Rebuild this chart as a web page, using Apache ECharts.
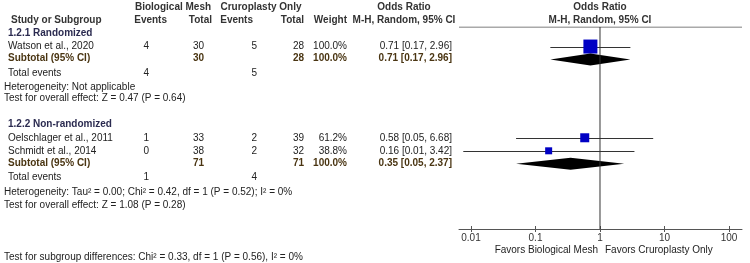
<!DOCTYPE html>
<html><head><meta charset="utf-8">
<script src="https://cdn.jsdelivr.net/npm/echarts@6/dist/echarts.min.js"></script>
<style>html,body{margin:0;padding:0;background:#fff}#c{width:750px;height:263px}</style>
</head><body><div id="c"></div>
<script>
// ---- data ----
const groupNames = ['1.2.1 Randomized', '1.2.2 Non-randomized'];
const studies = ['Watson et al., 2020', 'Oelschlager et al., 2011', 'Schmidt et al., 2014'];
const bioEvents = [4, 1, 0];
const bioTotal = [30, 33, 38];
const cruEvents = [5, 2, 2];
const cruTotal = [28, 39, 32];
const weights = [100.0, 61.2, 38.8];
const orEst = [0.71, 0.58, 0.16];
const orLow = [0.17, 0.05, 0.0076];
const orHigh = [2.96, 6.68, 3.42];
const subBioTotal = [30, 71];
const subCruTotal = [28, 71];
const subEst = [0.71, 0.35];
const subLow = [0.17, 0.05];
const subHigh = [2.96, 2.37];
const totBioEvents = [4, 1];
const totCruEvents = [5, 4];
const heterogeneity = ['Heterogeneity: Not applicable', 'Heterogeneity: Tau\u00b2 = 0.00; Chi\u00b2 = 0.42, df = 1 (P = 0.52); I\u00b2 = 0%'];
const overallEffect = ['Test for overall effect: Z = 0.47 (P = 0.64)', 'Test for overall effect: Z = 1.08 (P = 0.28)'];
const subgroupTest = 'Test for subgroup differences: Chi\u00b2 = 0.33, df = 1 (P = 0.56), I\u00b2 = 0%';
const axisTicks = [0.01, 0.1, 1, 10, 100];
const favorsLeft = 'Favors Biological Mesh';
const favorsRight = 'Favors Cruroplasty Only';

// ---- layout (styles / positions) ----
const studyRow = [1.5, 8.5, 9.5];
const subRow = [2.5, 10.5];
const markerSizes = [14, 9, 7];
const gridTop = 27, gridBottom = 34, rowMax = 15.5;
const xMin = 0.00652, xMax = 159;
const rowY = r => gridTop + r * (263 - gridTop - gridBottom) / rowMax;
const col = {study: 8, note: 4, bioEv: 149, bioTot: 204, cruEv: 257, cruTot: 304, weight: 347, orText: 452};
const FONT = '"Liberation Sans", Arial, sans-serif';
const TXT = '#222', HDR = '#333', GRP = '#2b2b50', SUB = '#4a3512';

const fmt = v => v.toFixed(2);
const ciText = (e, l, h) => fmt(e) + ' [' + fmt(l) + ', ' + fmt(h) + ']';

const g = [];
function T(x, y, text, align, bold, color) {
  g.push({type: 'text', x: x, y: y, style: {text: String(text), align: align || 'left', verticalAlign: 'middle',
    font: (bold ? 'bold ' : '') + '10px ' + FONT, fill: color || TXT}});
}
// headers
T(173, 7, 'Biological Mesh', 'center', true, HDR);
T(261, 7, 'Cruroplasty Only', 'center', true, HDR);
T(404, 7, 'Odds Ratio', 'center', true, HDR);
T(600, 7, 'Odds Ratio', 'center', true, HDR);
T(11, 20, 'Study or Subgroup', 'left', true, HDR);
T(167, 20, 'Events', 'right', true, HDR);
T(212, 20, 'Total', 'right', true, HDR);
T(253, 20, 'Events', 'right', true, HDR);
T(304, 20, 'Total', 'right', true, HDR);
T(347, 20, 'Weight', 'right', true, HDR);
T(404, 20, 'M-H, Random, 95% CI', 'center', true, HDR);
T(600, 20, 'M-H, Random, 95% CI', 'center', true, HDR);

const groupTitleRow = [0.5, 7.5];
const totalEvRow = [3.55, 11.5];
const hetRow = [4.6, 12.7];
const effRow = [5.45, 13.65];
const groupStudies = [[0], [1, 2]];
for (let k = 0; k < 2; k++) {
  T(col.study, rowY(groupTitleRow[k]), groupNames[k], 'left', true, GRP);
  groupStudies[k].forEach(i => {
    const y = rowY(studyRow[i]);
    T(col.study, y, studies[i]);
    T(col.bioEv, y, bioEvents[i], 'right');
    T(col.bioTot, y, bioTotal[i], 'right');
    T(col.cruEv, y, cruEvents[i], 'right');
    T(col.cruTot, y, cruTotal[i], 'right');
    T(col.weight, y, weights[i].toFixed(1) + '%', 'right');
    T(col.orText, y, ciText(orEst[i], orLow[i], orHigh[i]), 'right');
  });
  const ys = rowY(subRow[k]) - 1;
  T(col.study, ys, 'Subtotal (95% CI)', 'left', true, SUB);
  T(col.bioTot, ys, subBioTotal[k], 'right', true, SUB);
  T(col.cruTot, ys, subCruTotal[k], 'right', true, SUB);
  T(col.weight, ys, '100.0%', 'right', true, SUB);
  T(col.orText, ys, ciText(subEst[k], subLow[k], subHigh[k]), 'right', true, SUB);
  const yt = rowY(totalEvRow[k]);
  T(col.study, yt, 'Total events');
  T(col.bioEv, yt, totBioEvents[k], 'right');
  T(col.cruEv, yt, totCruEvents[k], 'right');
  T(col.note, rowY(hetRow[k]), heterogeneity[k]);
  T(col.note, rowY(effRow[k]), overallEffect[k]);
}
T(col.note, 257.5, subgroupTest);
T(598, 250, favorsLeft, 'right');
T(605, 250, favorsRight, 'left');

const chart = echarts.init(document.getElementById('c'), null, {renderer: 'canvas'});
const logAxisBase = {type: 'log', logBase: 10, min: xMin, max: xMax, gridIndex: 0, position: 'bottom', splitLine: {show: false}};
chart.setOption({
  animation: false,
  backgroundColor: '#fff',
  grid: {left: 459, right: 8, top: gridTop, bottom: gridBottom, containLabel: false},
  xAxis: [
    Object.assign({}, logAxisBase, {
      axisLine: {show: true, onZero: false, lineStyle: {color: '#555', width: 1}},
      axisTick: {show: true, length: 3, customValues: axisTicks, lineStyle: {color: '#555'}},
      axisLabel: {show: true, customValues: axisTicks, margin: 4, color: '#333', fontSize: 10, fontFamily: FONT,
        formatter: v => String(+(+v).toPrecision(3))},
      minorTick: {show: false}
    }),
    Object.assign({}, logAxisBase, {
      axisLine: {show: false, onZero: false},
      axisTick: {show: true, inside: true, length: 3, customValues: axisTicks, lineStyle: {color: '#555'}},
      axisLabel: {show: false}
    })
  ],
  yAxis: {type: 'value', min: 0, max: rowMax, inverse: true, show: false},
  graphic: g,
  series: [
    {type: 'line', data: [[xMin, 0], [xMax, 0]], symbol: 'none', lineStyle: {color: '#555', width: 1}, silent: true},
    {type: 'line', data: [[1, 0], [1, rowMax]], symbol: 'none', lineStyle: {color: '#333', width: 1}, silent: true},
    {
      type: 'custom',
      data: orEst.map((e, i) => [e, studyRow[i], orLow[i], orHigh[i]]),
      encode: {x: [0, 2, 3], y: 1},
      renderItem: function (params, api) {
        const c = api.coord([api.value(0), api.value(1)]);
        const l = api.coord([api.value(2), api.value(1)]);
        const h = api.coord([api.value(3), api.value(1)]);
        const s = markerSizes[params.dataIndex];
        const y = Math.round(c[1]) + 0.5;
        return {type: 'group', children: [
          {type: 'line', shape: {x1: l[0], y1: y, x2: h[0], y2: y}, style: {stroke: '#333', lineWidth: 1}},
          {type: 'rect', shape: {x: c[0] - s / 2, y: c[1] - s / 2, width: s, height: s}, style: {fill: '#0000c4'}}
        ]};
      }
    },
    {
      type: 'custom',
      data: subEst.map((e, i) => [e, subRow[i], subLow[i], subHigh[i]]),
      encode: {x: [0, 2, 3], y: 1},
      renderItem: function (params, api) {
        const c = api.coord([api.value(0), api.value(1)]);
        const l = api.coord([api.value(2), api.value(1)]);
        const h = api.coord([api.value(3), api.value(1)]);
        const hh = 6;
        return {type: 'polygon', shape: {points: [[l[0], c[1]], [c[0], c[1] - hh], [h[0], c[1]], [c[0], c[1] + hh]]},
          style: {fill: '#000'}};
      }
    }
  ]
});
</script></body></html>
